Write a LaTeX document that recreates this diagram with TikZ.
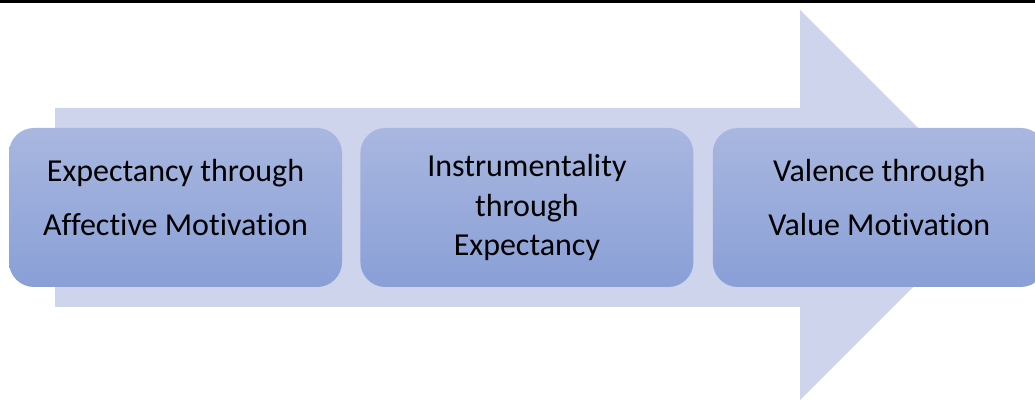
\documentclass[tikz,border=0pt]{standalone}
\usepackage{fontspec}
\setmainfont{Carlito}[Ligatures=NoCommon]
\usetikzlibrary{positioning}

\definecolor{arrowfill}{HTML}{CED4EC}
\definecolor{boxtop}{HTML}{A9B7E0}
\definecolor{boxbottom}{HTML}{899FD6}

\begin{document}
\begin{tikzpicture}[x=1pt, y=1pt, node distance=18pt,
	box/.style={rounded corners=25pt, minimum width=333pt, minimum height=159pt,
		top color=boxtop, bottom color=boxbottom, draw=none, inner sep=0pt,
		align=center, font=\fontsize{32}{54}\selectfont},
	raised/.style={text depth=21pt}]
	\useasboundingbox (0,0) rectangle (1035,403);
	\fill[black] (0,400) rectangle (1035,403);
	
	% big arrow behind the boxes
	\fill[arrowfill] (55,295) -- (800,295) -- (800,393) -- (995,198)
		-- (800,3) -- (800,96) -- (55,96) -- cycle;
	
	\node[box, raised] (box_1) at (175.5,195.5) {Expectancy through\\Affective Motivation};
	\node[box, right=of box_1, font=\fontsize{32}{39.5}\selectfont] (box_2) {Instrumentality\\through\\Expectancy};
	\node[box, raised, right=19pt of box_2] (box_3) {Valence through\\Value Motivation};
\end{tikzpicture}
\end{document}
